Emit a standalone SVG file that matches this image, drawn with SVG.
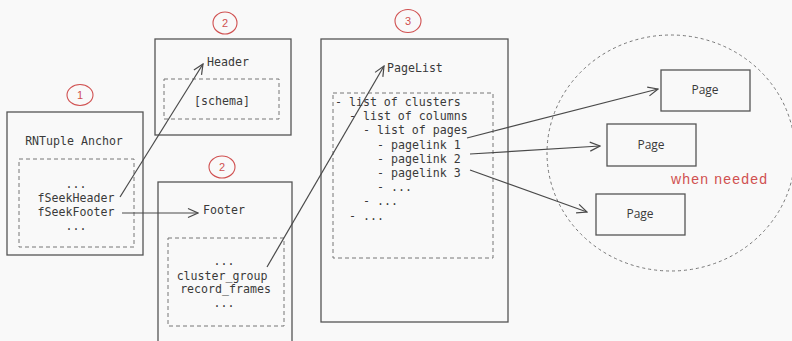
<svg xmlns="http://www.w3.org/2000/svg" width="792" height="341" viewBox="0 0 792 341">
  <defs>
    <style>
      .box { fill: none; stroke: #555; stroke-width: 1.3; }
      .dash { fill: none; stroke: #777; stroke-width: 1; stroke-dasharray: 4 3; }
      .zone { fill: none; stroke: #777; stroke-width: 1; stroke-dasharray: 3 3; }
      .mono { font-family: "DejaVu Sans Mono", "Liberation Mono", monospace; font-size: 11.6px; fill: #3a3a3a; }
      .mid { text-anchor: middle; }
      .badge { fill: none; stroke: #d05050; stroke-width: 1.1; }
      .num { font-family: "Liberation Sans", "DejaVu Sans", sans-serif; font-size: 11px; fill: #d05050; text-anchor: middle; }
      .page { font-family: "Open Sans", "Noto Sans", sans-serif; font-size: 12px; fill: #3a3a3a; text-anchor: middle; }
      .link { fill: none; stroke: #4a4a4a; stroke-width: 1.2; marker-end: url(#arrow); }
      .note { font-family: "Liberation Sans", "DejaVu Sans", sans-serif; font-size: 14px; fill: #d05050; }
    </style>
    <marker id="arrow" viewBox="0 0 12 12" refX="11" refY="6" markerWidth="12" markerHeight="12" markerUnits="userSpaceOnUse" orient="auto">
      <path d="M1 1.5 L11 6 L1 10.5" fill="none" stroke="#4a4a4a" stroke-width="1.2"/>
    </marker>
  </defs>

  <rect width="792" height="341" fill="#f9f9f9"/>

  <!-- lazily loaded pages region -->
  <ellipse cx="671" cy="153" rx="124" ry="118" class="zone"/>

  <g id="anchor">
    <ellipse cx="80" cy="95" rx="13" ry="10.5" class="badge"/>
    <text x="80" y="99" class="num">1</text>
    <rect x="7" y="112" width="136" height="143" class="box"/>
    <text x="74" y="145" class="mono mid">RNTuple Anchor</text>
    <rect x="19" y="159" width="115" height="88" class="dash"/>
    <text x="76" y="188" class="mono mid">...</text>
    <text x="76" y="201.5" class="mono mid">fSeekHeader</text>
    <text x="76" y="216" class="mono mid">fSeekFooter</text>
    <text x="76" y="230" class="mono mid">...</text>
  </g>

  <g id="header">
    <ellipse cx="225" cy="23" rx="12" ry="11" class="badge"/>
    <text x="225" y="27" class="num">2</text>
    <rect x="155" y="39" width="136" height="96" class="box"/>
    <text x="207" y="66" class="mono">Header</text>
    <rect x="164" y="79" width="115" height="40" class="dash"/>
    <text x="222" y="105" class="mono mid">[schema]</text>
  </g>

  <g id="footer">
    <ellipse cx="222" cy="167" rx="13" ry="11" class="badge"/>
    <text x="222" y="171" class="num">2</text>
    <rect x="158" y="182" width="134" height="170" class="box"/>
    <text x="203" y="214" class="mono">Footer</text>
    <rect x="168" y="238" width="116" height="88" class="dash"/>
    <text x="224" y="265" class="mono mid">...</text>
    <text x="222" y="280" class="mono mid">cluster_group</text>
    <text x="225.5" y="293" class="mono mid">record_frames</text>
    <text x="224" y="307" class="mono mid">...</text>
  </g>

  <g id="pagelist">
    <ellipse cx="408" cy="21" rx="13" ry="11.5" class="badge"/>
    <text x="408" y="25" class="num">3</text>
    <rect x="321" y="39" width="187" height="283" class="box"/>
    <text x="387" y="72" class="mono">PageList</text>
    <rect x="333" y="93" width="160" height="165" class="dash"/>
    <text x="335" y="106" class="mono">- list of clusters</text>
    <text x="349" y="120.2" class="mono">- list of columns</text>
    <text x="363" y="134.4" class="mono">- list of pages</text>
    <text x="377" y="148.6" class="mono">- pagelink 1</text>
    <text x="377" y="162.8" class="mono">- pagelink 2</text>
    <text x="377" y="177" class="mono">- pagelink 3</text>
    <text x="377" y="191.2" class="mono">- ...</text>
    <text x="363" y="205.4" class="mono">- ...</text>
    <text x="349" y="219.6" class="mono">- ...</text>
  </g>

  <g id="page-1">
    <rect x="661" y="70" width="89" height="41" class="box"/>
    <text x="705" y="94" class="page">Page</text>
  </g>
  <g id="page-2">
    <rect x="607" y="124" width="89" height="42" class="box"/>
    <text x="651" y="149" class="page">Page</text>
  </g>
  <g id="page-3">
    <rect x="596" y="194" width="89" height="41" class="box"/>
    <text x="640" y="218" class="page">Page</text>
  </g>

  <text x="671" y="184" class="note" textLength="96" lengthAdjust="spacing">when needed</text>

  <g id="connectors">
    <line x1="120" y1="197" x2="203" y2="64" class="link"/>
    <line x1="122" y1="213" x2="198" y2="213" class="link"/>
    <line x1="267" y1="267" x2="384" y2="66" class="link"/>
    <line x1="467" y1="138" x2="658" y2="89" class="link"/>
    <line x1="470" y1="154" x2="600" y2="146" class="link"/>
    <line x1="470" y1="170" x2="587" y2="212" class="link"/>
  </g>
</svg>
